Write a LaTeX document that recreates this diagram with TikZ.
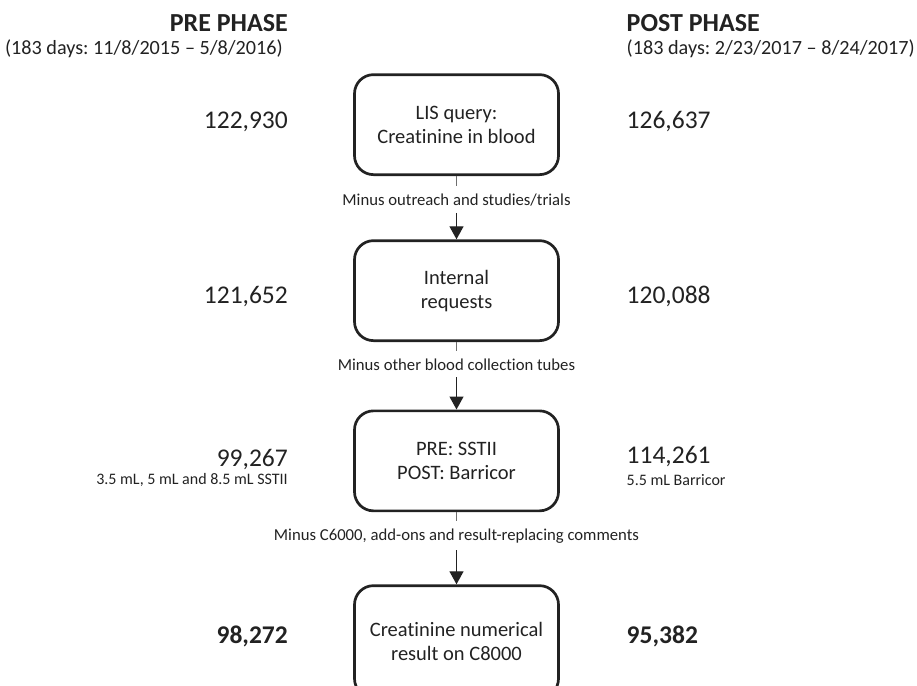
\documentclass[tikz,border=0pt]{standalone}
\usepackage{fontspec}
\setmainfont{Carlito}[Ligatures=NoCommon]
\frenchspacing
\usetikzlibrary{arrows.meta}
\definecolor{inkGray}{RGB}{34,34,34}
\definecolor{stemGray}{RGB}{110,110,110}

\tikzset{
  stage/.style={draw=inkGray, line width=2.7pt, rounded corners=19pt,
    minimum width=204pt, minimum height=100pt, align=center, anchor=north,
    inner sep=0pt, text=inkGray, font=\fontsize{20.5}{24}\selectfont},
  count/.style={text=inkGray, inner sep=0pt, font=\fontsize{25.5}{28}\selectfont},
  bigcount/.style={count, font=\fontsize{25.5}{28}\selectfont\bfseries},
  note/.style={text=inkGray, inner sep=0pt, font=\fontsize{16}{18}\selectfont},
  step label/.style={text=inkGray, inner xsep=2pt, inner ysep=7pt, anchor=base,
    font=\fontsize{16.7}{18}\selectfont},
  phase/.style={text=inkGray, inner sep=0pt, font=\fontsize{26}{28}\selectfont\bfseries},
  span/.style={text=inkGray, inner sep=0pt, font=\fontsize{20.2}{22}\selectfont},
  stem/.style={stemGray, line width=1pt},
  feed/.style={inkGray, line width=1.3pt, -{Triangle[length=13pt, width=14pt]}}
}

\begin{document}
\begin{tikzpicture}[x=1pt, y=-1pt]
    \newcommand\midx{456.5}
    \newcommand\leftcol{288}
    \newcommand\rightcol{626.5}

    \useasboundingbox (0,0) rectangle (917,685);

    % headers
    \node[phase, anchor=base east] (prehead) at (\leftcol, 32) {PRE PHASE};
    \node[span, anchor=base east] (prespan) at (\leftcol-5, 55) {(183 days: 11/8/2015 – 5/8/2016)};
    \node[phase, anchor=base west] (posthead) at (\rightcol, 32) {POST PHASE};
    \node[span, anchor=base west] (postspan) at (\rightcol, 55) {(183 days: 2/23/2017 – 8/24/2017)};

    % stages
    \node[stage] (lis) at (\midx, 73.3) {LIS query:\\Creatinine in blood};
    \node[stage] (internal) at (\midx, 239.3) {Internal\\requests};
    \node[stage] (tube) at (\midx, 409.5) {PRE: SSTII\\POST: Barricor};
    \node[stage, minimum height=112pt] (result) at (\midx, 584.3) {Creatinine numerical\\result on C8000};

    % counts
    \node[count, anchor=base east] (lispre) at (\leftcol, 128) {122,930};
    \node[count, anchor=base west] (lispost) at (\rightcol, 128) {126,637};
    \node[count, anchor=base east] (intpre) at (\leftcol, 303) {121,652};
    \node[count, anchor=base west] (intpost) at (\rightcol, 303) {120,088};
    \node[count, anchor=base east] (tubepre) at (\leftcol, 466) {99,267};
    \node[note, anchor=base east] (tubepreml) at (\leftcol, 484) {3.5 mL, 5 mL and 8.5 mL SSTII};
    \node[count, anchor=base west] (tubepost) at (\rightcol, 463) {114,261};
    \node[note, anchor=base west] (tubepostml) at (\rightcol, 485) {5.5 mL Barricor};
    \node[bigcount, anchor=base east] (respre) at (\leftcol, 643) {98,272};
    \node[bigcount, anchor=base west] (respost) at (\rightcol, 643) {95,382};

    % steps
    \node[step label] (cut1) at (\midx, 205) {Minus outreach and studies/trials};
    \node[step label] (cut2) at (\midx, 370) {Minus other blood collection tubes};
    \node[step label] (cut3) at (\midx, 540) {Minus C6000, add-ons and result-replacing comments};

    \draw[stem] (lis.south) -- (cut1.north);
    \draw[feed] (cut1.south) -- (internal.north);
    \draw[stem] (internal.south) -- (cut2.north);
    \draw[feed] (cut2.south) -- (tube.north);
    \draw[stem] (tube.south) -- (cut3.north);
    \draw[feed] (cut3.south) -- (result.north);
\end{tikzpicture}
\end{document}
